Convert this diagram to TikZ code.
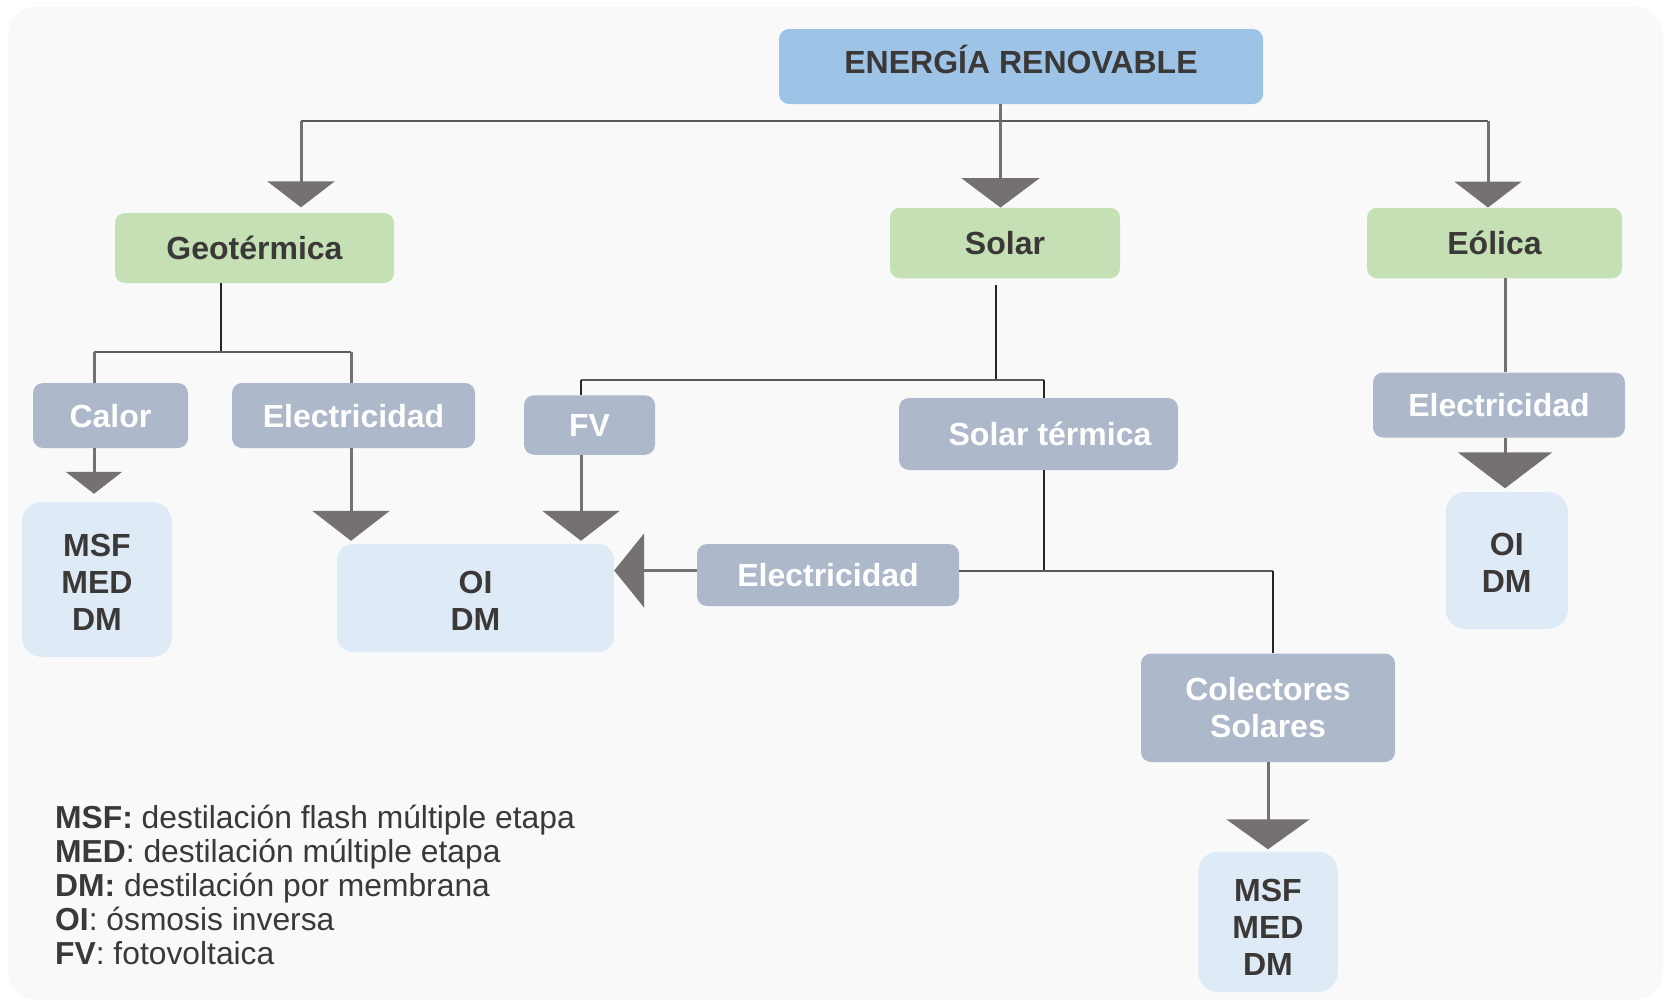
\documentclass[tikz,border=0pt]{standalone}
\usepackage{fontspec}
\setmainfont{Liberation Sans}
\usetikzlibrary{arrows.meta}
\definecolor{bg}{HTML}{F9F9F9}
\definecolor{topblue}{HTML}{9DC3E6}
\definecolor{srcgreen}{HTML}{C5E0B4}
\definecolor{formgray}{HTML}{ADB9CA}
\definecolor{techblue}{HTML}{DEEBF7}
\definecolor{tipgray}{HTML}{767171}
\definecolor{ink}{HTML}{3B3838}
\tikzset{
  box/.style={rectangle, rounded corners=10pt, inner sep=0pt, align=center,
    font=\fontsize{32}{37}\selectfont\bfseries},
  oneline/.style={text height=23pt, text depth=0pt},
  topbox/.style={box, fill=topblue, text=ink},
  srcbox/.style={box, oneline, fill=srcgreen, text=ink},
  formbox/.style={box, fill=formgray, text=white},
  techbox/.style={box, fill=techblue, text=ink, rounded corners=20pt},
  thinline/.style={draw=black!85, line width=1.5pt},
  midline/.style={draw=black!65, line width=2pt},
  thickline/.style={draw=tipgray, line width=3pt},
  tipto/.style 2 args={-{Triangle[width=#1,length=#2]}},
  legend/.style={anchor=base west, inner sep=0pt, text=ink,
    font=\fontsize{31.8}{34}\selectfont},
}
\begin{document}
\begin{tikzpicture}[x=1pt,y=-1pt]
\useasboundingbox (0,0) rectangle (1669,1004);
\fill[white] (0,0) rectangle (1669,1004);
\fill[bg, rounded corners=28pt] (8,7) rectangle (1663,1000);

% top level
\node[topbox, minimum width=484pt, minimum height=75pt,
      text height=23pt, text depth=9pt] (top) at (1021,66.5) {ENERGÍA RENOVABLE};

% sources
\node[srcbox, minimum width=279pt, minimum height=70pt] (geo) at (254.5,248) {Geotérmica};
\node[srcbox, minimum width=230pt, minimum height=70.5pt] (solar) at (1005,243) {Solar};
\node[srcbox, minimum width=255pt, minimum height=70.5pt] (eolica) at (1494.5,243) {Eólica};

% forms of energy
\node[formbox, oneline, minimum width=155pt, minimum height=65pt] (calor) at (110.5,415.5) {Calor};
\node[formbox, oneline, minimum width=243pt, minimum height=65pt] (elecG) at (353.5,415.5) {Electricidad};
\node[formbox, oneline, minimum width=131pt, minimum height=59.5pt] (fv) at (589.5,425) {FV};
\node[formbox, oneline, minimum width=279pt, minimum height=72pt] (solT) at (1038.5,434) {\hspace*{23pt}Solar térmica};
\node[formbox, oneline, minimum width=262pt, minimum height=62pt] (elecS) at (828,575) {Electricidad};
\node[formbox, minimum width=254pt, minimum height=108.5pt] (colect) at (1268,707.75) {Colectores\\Solares};
\node[formbox, oneline, minimum width=252pt, minimum height=65pt] (elecE) at (1499,405) {Electricidad};

% desalination technologies
\node[techbox, minimum width=150pt, minimum height=155pt] (msfL) at (97,579.5) {\rule{0pt}{27pt}MSF\\MED\\DM};
\node[techbox, rounded corners=16pt, minimum width=277pt, minimum height=108pt] (oiC) at (475.5,598) {\rule{0pt}{27pt}OI\\DM};
\node[techbox, minimum width=139.5pt, minimum height=140.5pt] (msfR) at (1268,921.75) {\rule{0pt}{34pt}MSF\\MED\\DM};
\node[techbox, minimum width=122.5pt, minimum height=137pt] (oiR) at (1506.75,560.5) {\rule{0pt}{27pt}OI\\DM};

% junction points
\coordinate (hub) at (1000.5,121);
\coordinate (geoDrop) at (301,121);
\coordinate (eolDrop) at (1488,121);
\coordinate (geoJoin) at (221,352);
\coordinate (calorTap) at (94,352);
\coordinate (elecGTap) at (351,352);
\coordinate (solarJoin) at (996,380);
\coordinate (fvTap) at (581,380);
\coordinate (solTTap) at (1044,380);
\coordinate (solTJoin) at (1044,570.5);
\coordinate (colTap) at (1273,570.5);
\coordinate (eolTap) at (1505,300);

% from the top box to the three sources
\draw[thickline] (top.south -| hub) -- (hub);
\draw[midline] (geoDrop) -- (eolDrop);
\draw[thickline, tipto={67pt}{26pt}, shorten >=5.5pt] (geoDrop) -- (geoDrop |- geo.north);
\draw[thickline, tipto={78pt}{29.5pt}] (hub) -- (hub |- solar.north);
\draw[thickline, tipto={67pt}{26pt}] (eolDrop) -- (eolDrop |- eolica.north);

% geothermal branch
\draw[thinline] (geo.south -| geoJoin) -- (geoJoin);
\draw[midline] (calorTap) -- (elecGTap);
\draw[thickline] (calorTap) -- (calorTap |- calor.north);
\draw[thickline] (elecGTap) -- (elecGTap |- elecG.north);
\draw[thickline, tipto={56pt}{22pt}, shorten >=8pt] (calorTap |- calor.south) -- (calorTap |- msfL.north);
\draw[thickline, tipto={77pt}{30pt}, shorten >=3pt] (elecGTap |- elecG.south) -- (elecGTap |- oiC.north);

% solar branch
\draw[thinline] ([yshift=-7pt]solar.south -| solarJoin) -- (solarJoin);
\draw[midline] (fvTap) -- (solTTap);
\draw[thinline] (fvTap) -- (fvTap |- fv.north);
\draw[thinline] (solTTap) -- (solTTap |- solT.north);
\draw[thickline, tipto={77pt}{30pt}, shorten >=3pt] (fvTap |- fv.south) -- (fvTap |- oiC.north);
\draw[thinline] (solT.south -| solTJoin) -- (solTJoin);
\draw[midline] (elecS.east |- colTap) -- (colTap);
\draw[thinline] (colTap) -- (colTap |- colect.north);
\draw[thickline, tipto={74pt}{30pt}] (elecS.west |- colTap) -- (oiC.east |- colTap);
\draw[thickline, tipto={83pt}{30pt}, shorten >=2pt] (colect.south) -- (msfR.north);

% wind branch
\draw[thickline] (eolica.south -| eolTap) -- (elecE.north -| eolTap);
\draw[thickline, tipto={94pt}{36pt}, shorten >=3.5pt] (elecE.south -| eolTap) -- (oiR.north -| eolTap);

% abbreviations
\node[legend] (leg1) at (55,828) {\textbf{MSF:} destilación flash múltiple etapa};
\node[legend] (leg2) at (55,862) {\textbf{MED}: destilación múltiple etapa};
\node[legend] (leg3) at (55,896) {\textbf{DM:} destilación por membrana};
\node[legend] (leg4) at (55,930) {\textbf{OI}: ósmosis inversa};
\node[legend] (leg5) at (55,964) {\textbf{FV}: fotovoltaica};
\end{tikzpicture}
\end{document}
